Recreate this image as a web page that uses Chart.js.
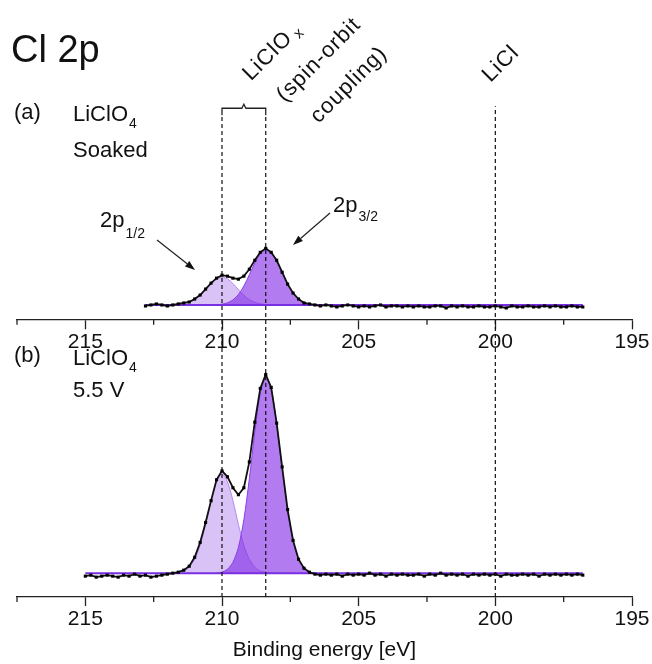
<!DOCTYPE html>
<html>
<head>
<meta charset="utf-8">
<script src="https://cdn.jsdelivr.net/npm/chart.js@4.4.0/dist/chart.umd.min.js"></script>
<style>
html, body { margin: 0; padding: 0; background: #fff; }
</style>
</head>
<body>
<canvas id="xps" width="652" height="664"></canvas>
<script>
const FONT = '"Liberation Sans", Arial, sans-serif';

// (a) LiClO4 soaked - measured points, binding energy [eV] / intensity [a.u.]
const energyA = [
  212.8, 212.6, 212.4, 212.2, 212.0, 211.8, 211.6, 211.4, 211.2, 211.0,
  210.8, 210.6, 210.4, 210.2, 210.0, 209.8, 209.6, 209.4, 209.2, 209.0,
  208.8, 208.6, 208.4, 208.2, 208.0, 207.8, 207.6, 207.4, 207.2, 207.0,
  206.8, 206.6, 206.4, 206.2, 206.0, 205.8, 205.6, 205.4, 205.2, 205.0,
  204.8, 204.6, 204.4, 204.2, 204.0, 203.8, 203.6, 203.4, 203.2, 203.0,
  202.8, 202.6, 202.4, 202.2, 202.0, 201.8, 201.6, 201.4, 201.2, 201.0,
  200.8, 200.6, 200.4, 200.2, 200.0, 199.8, 199.6, 199.4, 199.2, 199.0,
  198.8, 198.6, 198.4, 198.2, 198.0, 197.8, 197.6, 197.4, 197.2, 197.0,
  196.8
];
const countsA = [
  -1, 0, 1, 0, -1, 0, 1, 2, 3, 6,
  10, 16, 22, 27, 30, 29, 27, 26, 29, 36,
  45, 53, 57, 53, 45, 33, 21, 12, 6, 2,
  1, 0, -1, 0, -1, -2, -1, 0, -1, -2,
  -1, -2, -1, 0, -2, -1, -1, -2, -1, -2,
  -1, -2, -2, -1, -1, -3, -1, -2, -1, -2,
  -2, -1, -2, -2, -1, -2, -3, -1, -2, -2,
  -1, -2, -2, -1, -2, -1, -2, -2, -1, -2,
  -2
];

// (b) LiClO4 after 5.5 V
const energyB = [
  215.0, 214.8, 214.6, 214.4, 214.2, 214.0, 213.8, 213.6, 213.4, 213.2,
  213.0, 212.8, 212.6, 212.4, 212.2, 212.0, 211.8, 211.6, 211.4, 211.2,
  211.0, 210.8, 210.6, 210.4, 210.2, 210.0, 209.8, 209.6, 209.4, 209.2,
  209.0, 208.8, 208.6, 208.4, 208.2, 208.0, 207.8, 207.6, 207.4, 207.2,
  207.0, 206.8, 206.6, 206.4, 206.2, 206.0, 205.8, 205.6, 205.4, 205.2,
  205.0, 204.8, 204.6, 204.4, 204.2, 204.0, 203.8, 203.6, 203.4, 203.2,
  203.0, 202.8, 202.6, 202.4, 202.2, 202.0, 201.8, 201.6, 201.4, 201.2,
  201.0, 200.8, 200.6, 200.4, 200.2, 200.0, 199.8, 199.6, 199.4, 199.2,
  199.0, 198.8, 198.6, 198.4, 198.2, 198.0, 197.8, 197.6, 197.4, 197.2,
  197.0, 196.8
];
const countsB = [
  -3, -2, -4, -3, -2, -3, -4, -2, -3, -1,
  -3, -2, -4, -3, -2, -1, 0, 1, 3, 7,
  16, 31, 51, 73, 94, 103, 97, 86, 79, 86,
  112, 152, 186, 200, 187, 151, 107, 64, 33, 14,
  5, 1, -1, -2, -1, -2, -1, -3, -1, -2,
  -1, -2, 0, -2, -1, -3, -1, -2, -1, -2,
  -2, -1, -3, -1, -2, 0, -2, -1, -2, -1,
  -3, -1, -2, -1, -2, -1, -3, -1, -2, -2,
  -1, -2, -1, -3, -1, -2, -1, -2, -1, -2,
  -1, -2
];

// fitted components
const energy12 = [211.8, 211.6, 211.4, 211.2, 211.0, 210.8, 210.6, 210.4, 210.2, 210.0,
                  209.8, 209.6, 209.4, 209.2, 209.0, 208.8, 208.6, 208.4, 208.2];
const energy32 = [210.2, 210.0, 209.8, 209.6, 209.4, 209.2, 209.0, 208.8, 208.6, 208.4,
                  208.2, 208.0, 207.8, 207.6, 207.4, 207.2, 207.0, 206.8, 206.6];
const fitA12 = [0, 0.4, 1.1, 2.6, 5.3, 9.7, 15.5, 21.5, 26.2, 28, 26.2, 21.5, 15.5, 9.7, 5.3, 2.6, 1.1, 0.4, 0];
const fitA32 = [0, 0.8, 2.2, 5.1, 10.5, 19.1, 30.4, 42.2, 51.5, 55, 52, 44, 33, 21, 12, 6, 2.5, 1, 0];
const fitB12 = [0, 1, 2, 6, 14, 28, 49, 73, 92, 100, 92, 73, 49, 28, 14, 6, 2, 1, 0];
const fitB32 = [0, 1, 4, 11, 26, 54, 95, 142, 181, 196, 185, 150, 105, 62, 32, 14, 5, 1, 0];

const baseA = [212.8, 196.8];
const baseB = [215.0, 196.8];
const refLines = [210.0, 208.4, 200.0];   // LiClOx doublet, LiCl
const refTops = [485, 485, 494];

const offsetA = 294;   // stacking offset of spectrum (a)
const offsetB = 24;
const axisA = 279;     // height of the upper energy axis

const majorTicks = [215, 210, 205, 200, 195];
const minorTicks = [217.5, 212.5, 207.5, 202.5, 197.5];

const pts = (xs, ys, off) => xs.map((x, i) => ({ x: x, y: ys[i] + off }));

function fitSet(xs, ys, off, fillCol, lineCol, order) {
  return {
    data: pts(xs, ys, off), showLine: true, pointRadius: 0, tension: 0.3,
    borderColor: lineCol, borderWidth: 1, backgroundColor: fillCol,
    fill: { value: off }, order: order
  };
}
function dataSet(xs, ys, off) {
  return {
    data: pts(xs, ys, off), showLine: true, borderColor: '#111', borderWidth: 1.8,
    pointRadius: 2.2, pointStyle: 'rect', pointBackgroundColor: '#000', pointBorderWidth: 0, order: 1
  };
}
function baseSet(xs, off) {
  return { data: xs.map(x => ({ x: x, y: off })), showLine: true, borderColor: '#7b2fe2', borderWidth: 2, pointRadius: 0, order: 2 };
}

const light = 'rgba(157,102,232,0.4)', lightLine = 'rgba(175,125,240,0.9)';
const dark = 'rgba(127,37,230,0.6)', darkLine = '#8a3ee8';

const datasets = [
  fitSet(energy12, fitA12, offsetA, light, lightLine, 4),
  fitSet(energy32, fitA32, offsetA, dark, darkLine, 3),
  fitSet(energy12, fitB12, offsetB, light, lightLine, 4),
  fitSet(energy32, fitB32, offsetB, dark, darkLine, 3),
  baseSet(baseA, offsetA),
  baseSet(baseB, offsetB),
  dataSet(energyA, countsA, offsetA),
  dataSet(energyB, countsB, offsetB)
];
refLines.forEach((e, i) => datasets.push({
  data: [{ x: e, y: 0 }, { x: e, y: refTops[i] }], showLine: true, pointRadius: 0,
  borderColor: '#111', borderWidth: 1.2, borderDash: [4, 3], order: 0
}));

const energyAxis = {
  type: 'linear', min: 195, max: 217.5, reverse: true,
  afterBuildTicks: s => { s.ticks = majorTicks.map(v => ({ value: v })); },
  ticks: { font: { family: FONT, size: 21 }, color: '#111', padding: 1, maxRotation: 0, autoSkip: false },
  grid: { drawOnChartArea: false, tickLength: 9, tickColor: '#222', tickWidth: 1.3 },
  border: { color: '#222', width: 1.3 }
};

function put(ctx, s, x, y, size) {
  ctx.font = size + 'px ' + FONT;
  ctx.fillText(s, x, y);
  return ctx.measureText(s).width;
}
function withSub(ctx, main, sub, x, y, size, subSize, drop) {
  const w = put(ctx, main, x, y, size);
  put(ctx, sub, x + w + 1, y + drop, subSize);
}
function arrow(ctx, x1, y1, x2, y2) {
  const a = Math.atan2(y2 - y1, x2 - x1), L = 10, W = 3.5;
  const bx = x2 - L * Math.cos(a), by = y2 - L * Math.sin(a);
  ctx.beginPath(); ctx.moveTo(x1, y1); ctx.lineTo(bx, by); ctx.stroke();
  ctx.beginPath(); ctx.moveTo(x2, y2);
  ctx.lineTo(bx + W * Math.sin(a), by - W * Math.cos(a));
  ctx.lineTo(bx - W * Math.sin(a), by + W * Math.cos(a));
  ctx.closePath(); ctx.fill();
}
function tilted(ctx, s, sub, cx, cy, size) {
  ctx.save();
  ctx.translate(cx, cy);
  ctx.rotate(-Math.PI / 4);
  ctx.letterSpacing = '1px';
  ctx.font = size + 'px ' + FONT;
  const w = ctx.measureText(s).width;
  ctx.font = (size - 7) + 'px ' + FONT;
  const ws = sub ? ctx.measureText(sub).width + 3 : 0;
  ctx.textBaseline = 'middle';
  put(ctx, s, -(w + ws) / 2, 0, size);
  if (sub) put(ctx, sub, -(w + ws) / 2 + w + 4, 6, size - 7);
  ctx.restore();
}

const decorations = {
  id: 'decorations',
  afterDraw(chart) {
    const { ctx } = chart;
    const x = chart.scales.x, y = chart.scales.y;
    const px = v => x.getPixelForValue(v), py = v => y.getPixelForValue(v);
    ctx.save();
    ctx.strokeStyle = '#222'; ctx.fillStyle = '#111'; ctx.lineWidth = 1.3;

    // minor ticks on both energy axes
    [py(0), py(axisA)].forEach(y0 => {
      minorTicks.forEach(v => {
        ctx.beginPath(); ctx.moveTo(px(v), y0); ctx.lineTo(px(v), y0 + 5); ctx.stroke();
      });
    });

    // bracket joining the doublet lines
    const xl = px(refLines[0]), xr = px(refLines[1]), xm = (xl + xr) / 2;
    const yb = py(refTops[0]), yt = yb - 7;
    ctx.beginPath();
    ctx.moveTo(xl, yb); ctx.lineTo(xl, yt); ctx.lineTo(xm - 2, yt); ctx.lineTo(xm, yt - 4);
    ctx.lineTo(xm + 2, yt); ctx.lineTo(xr, yt); ctx.lineTo(xr, yb);
    ctx.stroke();

    // panel labels
    ctx.textBaseline = 'alphabetic';
    put(ctx, 'Cl 2p', 11, 62, 38);
    put(ctx, '(a)', 14, 119, 22);
    withSub(ctx, 'LiClO', '4', 73, 121, 22, 14, 7);
    put(ctx, 'Soaked', 73, 157, 22);
    put(ctx, '(b)', 14, 362, 22);
    withSub(ctx, 'LiClO', '4', 73, 365, 22, 14, 7);
    put(ctx, '5.5 V', 73, 397, 22);

    // peak labels and arrows
    withSub(ctx, '2p', '1/2', 100, 227, 22, 14, 11);
    withSub(ctx, '2p', '3/2', 333, 212, 22, 14, 9);
    ctx.lineWidth = 1.2;
    arrow(ctx, 157, 240, 195, 270);
    arrow(ctx, 330, 213, 293, 245);

    // tilted headers
    tilted(ctx, 'LiClO', 'x', 272, 52, 22);
    tilted(ctx, '(spin-orbit', null, 319, 60, 22);
    tilted(ctx, 'coupling)', null, 349, 85, 22);
    tilted(ctx, 'LiCl', null, 501, 64, 22);
    ctx.restore();
  }
};

new Chart(document.getElementById('xps'), {
  type: 'scatter',
  data: { datasets: datasets },
  options: {
    responsive: false,
    animation: false,
    devicePixelRatio: 1,
    layout: { padding: { left: 17, right: 20, top: 0, bottom: 0 } },
    plugins: { legend: { display: false }, tooltip: { enabled: false } },
    scales: {
      x: Object.assign({}, energyAxis, {
        position: 'bottom',
        afterFit: s => { s.height = 67; },
        title: { display: true, text: 'Binding energy [eV]', font: { family: FONT, size: 21 }, color: '#111', padding: { top: 0, bottom: 1 } }
      }),
      x2: Object.assign({}, energyAxis, { axis: 'x', position: { y: axisA } }),
      y: { type: 'linear', min: 0, max: 597, display: false }
    }
  },
  plugins: [decorations]
});
</script>
</body>
</html>
